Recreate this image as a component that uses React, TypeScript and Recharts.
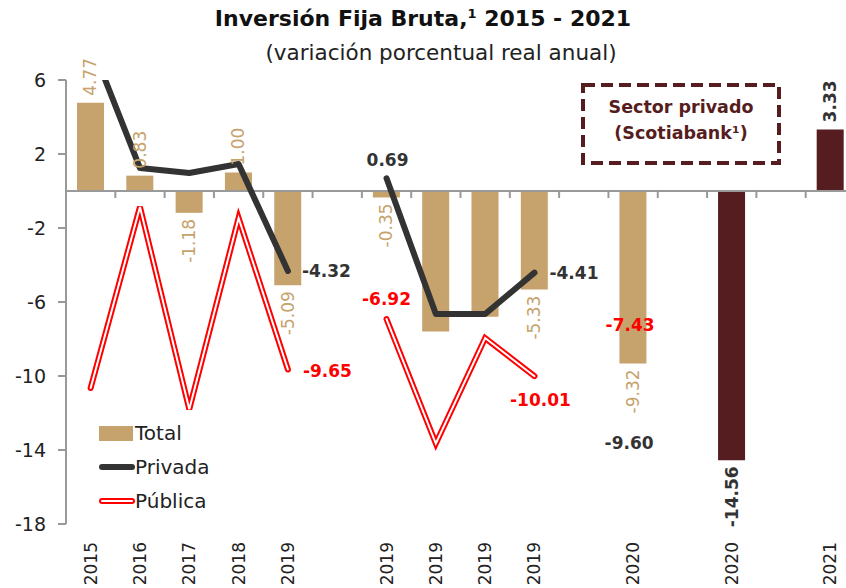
import React from 'react'
import { ComposedChart, Bar, Line, XAxis, YAxis, LabelList, ReferenceLine } from 'recharts'

const categories = ['2015', '2016', '2017', '2018', '2019', '', '2019', '2019', '2019', '2019', '', '2020', '', '2020', '', '2021']
const total = [4.77, 0.83, -1.18, 1.0, -5.09, null, -0.35, -7.6, -6.8, -5.33, null, -9.32, null, null, null, null]
const scotiabank = [null, null, null, null, null, null, null, null, null, null, null, null, null, -14.56, null, 3.33]
const privada = [8.0, 1.24, 0.97, 1.46, -4.32, null, 0.69, -6.65, -6.65, -4.41, null, -9.6, null, null, null, null]
const publica = [-10.65, -0.86, -11.8, -1.46, -9.65, null, -6.92, -13.65, -7.95, -10.01, null, -7.43, null, null, null, null]
const yTicks = [6, 2, -2, -6, -10, -14, -18]

// total bars without a printed value
const unlabeledTotal = [7, 8]

// a lone value (no neighbour) only gets its label, no stroke
const linked = (arr: (number | null)[], i: number) =>
  arr[i] != null && (arr[i - 1] != null || arr[i + 1] != null) ? arr[i] : null

const data = categories.map((label, i) => ({
  key: `c${i}`,
  label,
  total: total[i],
  totalLabel: unlabeledTotal.includes(i) ? null : total[i],
  scotiabank: scotiabank[i],
  privada: privada[i],
  privadaLine: linked(privada, i),
  publica: publica[i],
  publicaLine: linked(publica, i),
}))

const FONT = '"DejaVu Sans", sans-serif'
const TAN = '#C6A26C'
const MAROON = '#561D20'
const DARK = '#333333'
const RED = '#FF0000'

type Place = { dx: number; dy: number; anchor: 'start' | 'middle' | 'end' }
const privadaPlaces: Record<number, Place> = {
  4: { dx: 14, dy: 0, anchor: 'start' },
  6: { dx: 1, dy: -18, anchor: 'middle' },
  9: { dx: 15, dy: 0, anchor: 'start' },
  11: { dx: -4, dy: 74, anchor: 'middle' },
}
const publicaPlaces: Record<number, Place> = {
  4: { dx: 15, dy: 1, anchor: 'start' },
  6: { dx: 0, dy: -20, anchor: 'middle' },
  9: { dx: 6, dy: 24, anchor: 'middle' },
  11: { dx: -3, dy: -3, anchor: 'middle' },
}

const barLabel = (color: string, bold: boolean) => (props: any) => {
  const { x, y, width, height, value } = props
  if (value == null) return null
  const cx = Number(x) + Number(width) / 2
  const top = Math.min(Number(y), Number(y) + Number(height))
  const bottom = Math.max(Number(y), Number(y) + Number(height))
  const ay = value >= 0 ? top - 7 : bottom + 6
  return (
    <text
      x={cx}
      y={ay}
      transform={`rotate(-90 ${cx} ${ay})`}
      textAnchor={value >= 0 ? 'start' : 'end'}
      dominantBaseline="central"
      fill={color}
      fontSize={17}
      fontWeight={bold ? 'bold' : 'normal'}
      fontFamily={FONT}
    >
      {Number(value).toFixed(2)}
    </text>
  )
}

const lineLabel = (color: string, places: Record<number, Place>) => (props: any) => {
  const { x, y, value, index } = props
  const p = places[index]
  if (value == null || !p) return null
  return (
    <text
      x={Number(x) + p.dx}
      y={Number(y) + p.dy}
      textAnchor={p.anchor}
      dominantBaseline="central"
      fill={color}
      fontSize={17}
      fontWeight="bold"
      fontFamily={FONT}
    >
      {Number(value).toFixed(2)}
    </text>
  )
}

const XTick = (props: any) => {
  const { x, y, payload } = props
  const text = categories[payload.index] ?? ''
  return (
    <text
      x={x}
      y={y}
      transform={`rotate(-90 ${x} ${y})`}
      textAnchor="end"
      dominantBaseline="central"
      fill="#222"
      fontSize={17}
      fontFamily={FONT}
    >
      {text}
    </text>
  )
}

const ZeroAxis = (props: any) => {
  const { x1, y1, x2 } = props
  const n = categories.length
  const step = (x2 - x1) / n
  const marks = []
  for (let k = 1; k < n; k++) {
    const xx = x1 + k * step
    marks.push(<line key={k} x1={xx} x2={xx} y1={y1} y2={y1 + 7} stroke="#999" strokeWidth={2} />)
  }
  return (
    <g>
      <line x1={x1} x2={x2} y1={y1} y2={y1} stroke="#999" strokeWidth={2} />
      {marks}
    </g>
  )
}

const LegendBox = () => {
  const row = { display: 'flex', alignItems: 'center', height: 34, fontSize: 20, color: '#222', fontFamily: FONT }
  return (
    <div style={{ position: 'absolute', left: 99, top: 416 }}>
      <div style={row}>
        <svg width={36} height={20}>
          <rect x={0} y={3} width={34} height={15} fill={TAN} />
        </svg>
        <span>Total</span>
      </div>
      <div style={row}>
        <svg width={36} height={20}>
          <line x1={3} x2={33} y1={10} y2={10} stroke={DARK} strokeWidth={6} strokeLinecap="round" />
        </svg>
        <span>Privada</span>
      </div>
      <div style={row}>
        <svg width={36} height={20}>
          <line x1={3} x2={33} y1={10} y2={10} stroke={RED} strokeWidth={6} strokeLinecap="round" />
          <line x1={3} x2={33} y1={10} y2={10} stroke="#fff" strokeWidth={2} strokeLinecap="round" />
        </svg>
        <span>Pública</span>
      </div>
    </div>
  )
}

export default function App() {
  return (
    <div
      style={{
        position: 'absolute',
        left: 0,
        top: 0,
        width: 846,
        height: 588,
        overflow: 'hidden',
        background: '#fff',
        fontFamily: FONT,
      }}
    >
      <div style={{ position: 'absolute', left: 0, top: 6, width: 846, textAlign: 'center', fontSize: 22, fontWeight: 'bold', color: '#111' }}>
        Inversión Fija Bruta,<sup style={{ fontSize: 13 }}>1</sup> 2015 - 2021
      </div>
      <div style={{ position: 'absolute', left: 18, top: 40, width: 846, textAlign: 'center', fontSize: 21.5, color: '#222' }}>
        (variación porcentual real anual)
      </div>
      <ComposedChart
        width={870}
        height={588}
        data={data}
        margin={{ top: 80, right: 15, bottom: 0, left: 0 }}
        stackOffset="sign"
      >
        <XAxis
          dataKey="key"
          axisLine={false}
          tickLine={false}
          tickSize={0}
          tickMargin={18}
          height={64}
          interval={0}
          tick={<XTick />}
        />
        <YAxis
          type="number"
          domain={[-18, 6]}
          ticks={yTicks}
          allowDataOverflow
          width={66}
          axisLine={{ stroke: '#999', strokeWidth: 2 }}
          tickLine={{ stroke: '#999', strokeWidth: 2 }}
          tickSize={8}
          tickMargin={12}
          tick={{ fill: '#222', fontSize: 19, fontFamily: FONT }}
        />
        <Bar dataKey="total" stackId="s" fill={TAN} barSize={27} isAnimationActive={false}>
          <LabelList dataKey="totalLabel" content={barLabel(TAN, false)} />
        </Bar>
        <Bar dataKey="scotiabank" stackId="s" fill={MAROON} barSize={27} isAnimationActive={false}>
          <LabelList dataKey="scotiabank" content={barLabel(DARK, true)} />
        </Bar>
        <ReferenceLine y={0} shape={<ZeroAxis />} />
        <Line
          dataKey="privadaLine"
          stroke={DARK}
          strokeWidth={6}
          strokeLinecap="round"
          strokeLinejoin="round"
          dot={false}
          activeDot={false}
          isAnimationActive={false}
        />
        <Line
          dataKey="publicaLine"
          stroke={RED}
          strokeWidth={6}
          strokeLinecap="round"
          strokeLinejoin="miter"
          dot={false}
          activeDot={false}
          isAnimationActive={false}
        />
        <Line
          dataKey="publicaLine"
          stroke="#fff"
          strokeWidth={2}
          strokeLinecap="round"
          dot={false}
          activeDot={false}
          isAnimationActive={false}
        />
        <Line dataKey="privada" stroke="none" dot={false} activeDot={false} isAnimationActive={false}>
          <LabelList dataKey="privada" content={lineLabel(DARK, privadaPlaces)} />
        </Line>
        <Line dataKey="publica" stroke="none" dot={false} activeDot={false} isAnimationActive={false}>
          <LabelList dataKey="publica" content={lineLabel(RED, publicaPlaces)} />
        </Line>
      </ComposedChart>
      <LegendBox />
      <svg style={{ position: 'absolute', left: 581, top: 83 }} width={200} height={82}>
        <rect x={2} y={2} width={196} height={78} fill="none" stroke={MAROON} strokeWidth={4} strokeDasharray="12 6" />
        <text x={100} y={30} textAnchor="middle" fill={MAROON} fontSize={17.5} fontWeight="bold" fontFamily={FONT}>
          Sector privado
        </text>
        <text x={100} y={56} textAnchor="middle" fill={MAROON} fontSize={17.5} fontWeight="bold" fontFamily={FONT}>
          (Scotiabank¹)
        </text>
      </svg>
    </div>
  )
}
